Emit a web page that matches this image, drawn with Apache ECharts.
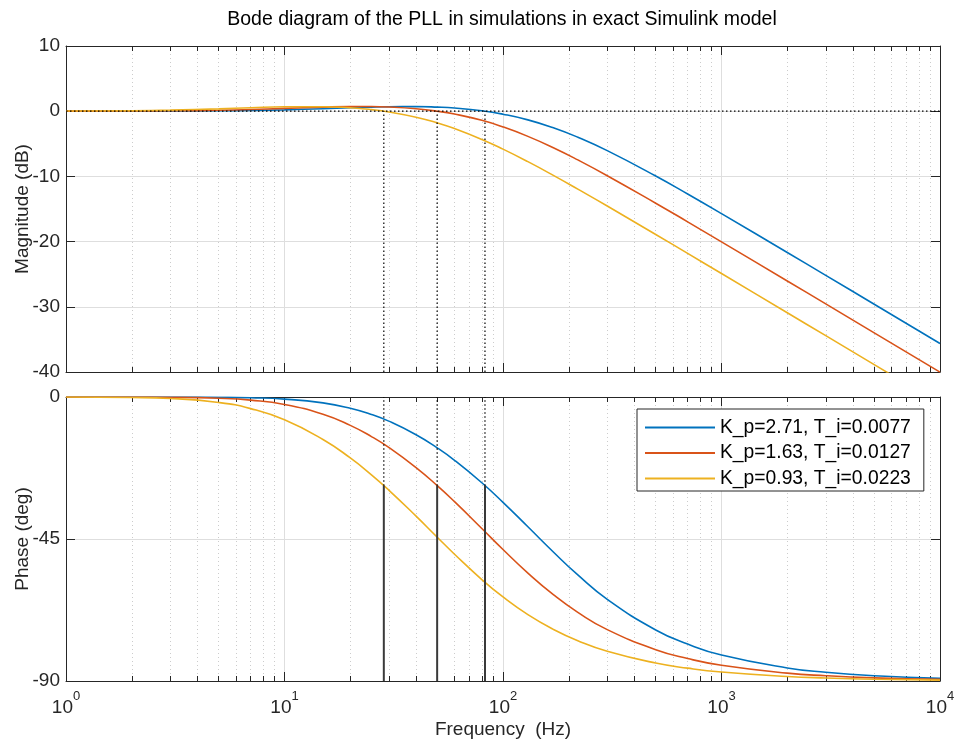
<!DOCTYPE html>
<html><head><meta charset="utf-8">
<script src="https://cdn.jsdelivr.net/npm/echarts@6/dist/echarts.min.js"></script>
<style>html,body{margin:0;padding:0;background:#fff}#c{width:957px;height:740px}</style>
</head><body><div id="c"></div>
<script>
// ---- data ----
const freqHz = [1, 2, 3, 5, 7, 10, 15, 20, 25, 30, 40, 50, 60, 80, 100, 130, 170, 220, 300, 500, 700, 1000, 2000, 3000, 5000, 10000];

const magBlue   = [0.00, 0.01, 0.02, 0.06, 0.11, 0.21, 0.38, 0.52, 0.63, 0.69, 0.71, 0.63, 0.49, 0.07, -0.46, -1.33, -2.54, -3.99, -6.05, -9.94, -12.70, -15.71, -21.67, -25.18, -29.61, -35.63];
const magRed    = [0.01, 0.03, 0.06, 0.15, 0.26, 0.43, 0.63, 0.71, 0.71, 0.64, 0.37, 0.00, -0.44, -1.40, -2.41, -3.86, -5.60, -7.47, -9.89, -14.11, -16.97, -20.04, -26.04, -29.55, -33.99, -40.01];
const magYellow = [0.02, 0.08, 0.17, 0.36, 0.53, 0.68, 0.69, 0.52, 0.24, -0.11, -0.92, -1.79, -2.67, -4.33, -5.82, -7.74, -9.84, -11.95, -14.54, -18.91, -21.81, -24.90, -30.91, -34.43, -38.87, -44.89];

const phaseBlue   = [0.00, -0.01, -0.02, -0.10, -0.25, -0.67, -1.87, -3.56, -5.53, -7.65, -11.95, -16.11, -20.05, -27.17, -33.37, -41.12, -49.11, -56.39, -64.12, -73.82, -78.30, -81.76, -85.86, -87.24, -88.34, -89.17];
const phaseRed    = [0.00, -0.03, -0.09, -0.40, -0.99, -2.35, -5.47, -8.99, -12.54, -15.98, -22.37, -28.09, -33.18, -41.67, -48.33, -55.80, -62.64, -68.25, -73.72, -80.07, -82.88, -85.00, -87.50, -88.33, -89.00, -89.50];
const phaseYellow = [-0.02, -0.15, -0.46, -1.73, -3.68, -7.24, -13.46, -19.31, -24.65, -29.49, -37.76, -44.43, -49.83, -57.85, -63.37, -68.96, -73.63, -77.22, -80.56, -84.31, -85.93, -87.15, -88.57, -89.05, -89.43, -89.71];

const seriesNames = ['K_p=2.71, T_i=0.0077', 'K_p=1.63, T_i=0.0127', 'K_p=0.93, T_i=0.0223'];

// 0 dB crossover frequencies (vertical markers) and phase there
const markerFreq  = [82.7, 49.96, 28.48];
const markerPhase = [-28.1, -28.1, -28.1];

const magTicks = [-40, -30, -20, -10, 0, 10];
const phaseTicks = [-90, -45, 0];
const decadeTicks = [1, 10, 100, 1000, 10000];

// ---- styling ----
const COLORS = ['#0072BD', '#D95319', '#EDB120'];
const FONT = '"Liberation Sans", Arial, Helvetica, sans-serif';
const AX = '#262626';
const GRID_MAJOR = '#dedede';
const GRID_MINOR = '#cccccc';

const minorFreq = [];
for (let k = 0; k < 4; k++) for (let m = 2; m <= 9; m++) minorFreq.push(m * Math.pow(10, k));

function xAx(gi, pos, major, withLabels) {
  const a = {
    type: 'log', logBase: 10, gridIndex: gi, position: pos, min: 1, max: 10000,
    axisLine: { show: major, onZero: false, lineStyle: { color: AX, width: 1 } },
    axisTick: { show: true, inside: true, length: major ? 9 : 5, lineStyle: { color: AX, width: 1 },
                customValues: major ? decadeTicks : minorFreq },
    axisLabel: { show: false },
    splitLine: pos === 'bottom'
      ? { show: true, lineStyle: major ? { color: GRID_MAJOR, width: 1, type: 'solid' } : { color: GRID_MINOR, width: 1, type: [1, 3] } }
      : { show: false },
    minorTick: { show: false }, minorSplitLine: { show: false }
  };
  if (withLabels) {
    a.axisLabel = {
      show: true, customValues: decadeTicks, margin: 9,
      formatter: v => '{b|10}{s|' + Math.round(Math.log10(v)) + '}',
      rich: {
        b: { fontSize: 19, lineHeight: 27, verticalAlign: 'bottom', fontFamily: FONT, color: AX },
        s: { fontSize: 13, verticalAlign: 'top', fontFamily: FONT, color: AX }
      }
    };
    a.name = 'Frequency  (Hz)';
    a.nameLocation = 'middle';
    a.nameGap = 39;
    a.nameMoveOverlap = false;
    a.nameTextStyle = { fontSize: 19, fontFamily: FONT, color: AX };
  }
  return a;
}

function yAx(gi, pos, min, max, interval, ticks, name) {
  const left = pos === 'left';
  return {
    type: 'value', gridIndex: gi, position: pos, min: min, max: max, interval: interval,
    axisLine: { show: true, onZero: false, lineStyle: { color: AX, width: 1 } },
    axisTick: { show: true, inside: true, length: 9, lineStyle: { color: AX, width: 1 }, customValues: ticks },
    axisLabel: left ? { show: true, customValues: ticks, margin: 6, fontSize: 19, fontFamily: FONT, color: AX } : { show: false },
    splitLine: left ? { show: true, lineStyle: { color: GRID_MAJOR, width: 1 } } : { show: false },
    name: left ? name : '', nameLocation: 'middle', nameGap: 34, nameRotate: 90, nameMoveOverlap: false,
    nameTextStyle: { fontSize: 19, fontFamily: FONT, color: AX }
  };
}

const series = [];
const mags = [magBlue, magRed, magYellow];
const phs = [phaseBlue, phaseRed, phaseYellow];
for (let s = 0; s < 3; s++) {
  series.push({
    name: seriesNames[s], type: 'line', xAxisIndex: 0, yAxisIndex: 0,
    data: freqHz.map((f, i) => [f, mags[s][i]]),
    symbol: 'none', smooth: true, clip: true, z: 3,
    lineStyle: { color: COLORS[s], width: 1.6 }, itemStyle: { color: COLORS[s] }
  });
  series.push({
    name: seriesNames[s], type: 'line', xAxisIndex: 4, yAxisIndex: 2,
    data: freqHz.map((f, i) => [f, phs[s][i]]),
    symbol: 'none', smooth: true, clip: true, z: 3,
    lineStyle: { color: COLORS[s], width: 1.6 }, itemStyle: { color: COLORS[s] }
  });
}
// 0 dB reference line
series.push({
  type: 'line', xAxisIndex: 0, yAxisIndex: 0, symbol: 'none', silent: true, z: 4,
  data: [[decadeTicks[0], 0], [decadeTicks[4], 0]],
  lineStyle: { color: '#000', width: 1.2, type: [1.5, 2.5] }
});
// vertical markers at crossover frequencies
markerFreq.forEach((f, i) => {
  series.push({
    type: 'line', xAxisIndex: 0, yAxisIndex: 0, symbol: 'none', silent: true, z: 4,
    data: [[f, magTicks[0]], [f, 0]],
    lineStyle: { color: '#000', width: 1.2, type: [1.5, 2.5] }
  });
  series.push({
    type: 'line', xAxisIndex: 4, yAxisIndex: 2, symbol: 'none', silent: true, z: 4,
    data: [[f, phaseTicks[0]], [f, markerPhase[i]]],
    lineStyle: { color: '#3a3a3a', width: 2, type: 'solid' }
  });
  series.push({
    type: 'line', xAxisIndex: 4, yAxisIndex: 2, symbol: 'none', silent: true, z: 4,
    data: [[f, markerPhase[i]], [f, 0]],
    lineStyle: { color: '#000', width: 1.2, type: [1.5, 2.5] }
  });
});

const option = {
  animation: false,
  backgroundColor: '#fff',
  title: {
    text: 'Bode diagram of the PLL in simulations in exact Simulink model',
    left: 502, top: 10, padding: 0, textAlign: 'center',
    textStyle: { fontSize: 19.5, fontWeight: 'normal', fontFamily: FONT, color: '#000' }
  },
  grid: [
    { left: 66, top: 46, width: 874, height: 326, outerBoundsMode: 'none', containLabel: false },
    { left: 66, top: 397, width: 874, height: 284, outerBoundsMode: 'none', containLabel: false }
  ],
  xAxis: [
    xAx(0, 'bottom', true, false), xAx(0, 'bottom', false, false),
    xAx(0, 'top', true, false), xAx(0, 'top', false, false),
    xAx(1, 'bottom', true, true), xAx(1, 'bottom', false, false),
    xAx(1, 'top', true, false), xAx(1, 'top', false, false)
  ],
  yAxis: [
    yAx(0, 'left', -40, 10, 10, magTicks, 'Magnitude (dB)'),
    yAx(0, 'right', -40, 10, 10, magTicks, ''),
    yAx(1, 'left', -90, 0, 45, phaseTicks, 'Phase (deg)'),
    yAx(1, 'right', -90, 0, 45, phaseTicks, '')
  ],
  legend: {
    data: seriesNames.map(n => ({ name: n, icon: 'rect' })),
    orient: 'vertical', left: 637, top: 409,
    padding: [9, 13, 3, 8], itemGap: 6.5, itemWidth: 70, itemHeight: 2,
    backgroundColor: '#fff', borderColor: AX, borderWidth: 1, borderRadius: 0,
    textStyle: { fontSize: 19.3, fontFamily: FONT, color: '#000' },
    selectedMode: false, z: 10
  },
  series: series
};

const chart = echarts.init(document.getElementById('c'));
chart.setOption(option);
</script>
</body></html>
